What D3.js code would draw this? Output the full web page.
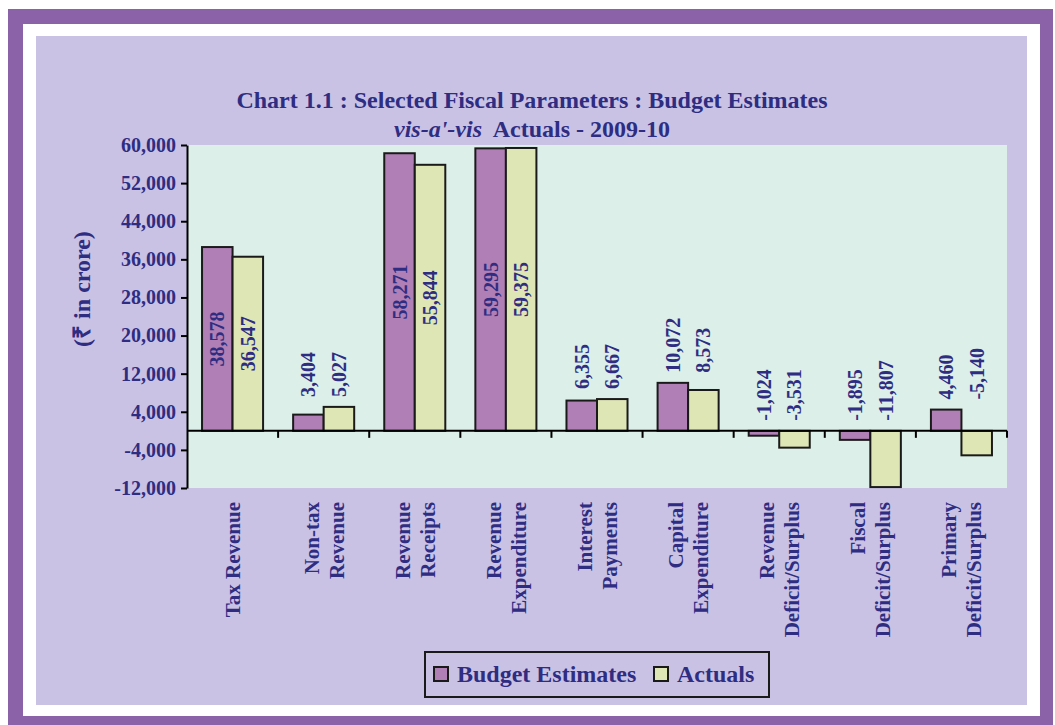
<!DOCTYPE html>
<html><head><meta charset="utf-8">
<script src="https://cdn.jsdelivr.net/npm/d3@7"></script>
<style>body{margin:0;background:#fff}svg{display:block}text{font-family:"Liberation Serif","Times New Roman",serif;font-weight:bold}</style>
</head><body><svg id="c" width="1055" height="725"></svg>
<script>
const categories = [["Tax Revenue"],["Non-tax","Revenue"],["Revenue","Receipts"],["Revenue","Expenditure"],["Interest","Payments"],["Capital","Expenditure"],["Revenue","Deficit/Surplus"],["Fiscal","Deficit/Surplus"],["Primary","Deficit/Surplus"]];
const budgetEstimates = [38578, 3404, 58271, 59295, 6355, 10072, -1024, -1895, 4460];
const actuals = [36547, 5027, 55844, 59375, 6667, 8573, -3531, -11807, -5140];
const seriesNames = ["Budget Estimates", "Actuals"];
const yTicks = [60000, 52000, 44000, 36000, 28000, 20000, 12000, 4000, -4000, -12000];

const navy = "#2e2d82", purple = "#8b62a8", lav = "#c9c2e5", mint = "#ddefe9";
const colors = ["#b07fb5", "#dfe6b5"];
const svg = d3.select("#c");
svg.append("rect").attr("x",8).attr("y",9).attr("width",1045).attr("height",716).attr("fill",purple);
svg.append("rect").attr("x",23).attr("y",24).attr("width",1017).attr("height",692).attr("fill","#fff");
svg.append("rect").attr("x",36).attr("y",36).attr("width",991).attr("height",669).attr("fill",lav);

const L=187,R=1007,T=145,B=488;
const keys = categories.map(c=>c.join(" "));
const x0 = d3.scaleBand().domain(keys).range([L,R]).paddingInner(0.33).paddingOuter(0.165);
const x1 = d3.scaleBand().domain(seriesNames).range([0,x0.bandwidth()]);
const y = d3.scaleLinear().domain([-12000,60000]).range([B,T]);
const fmt = d3.formatLocale({decimal:".",thousands:",",grouping:[3],currency:["",""],minus:"-"}).format(",");

svg.append("rect").attr("x",L).attr("y",T).attr("width",R-L).attr("height",B-T).attr("fill",mint);

// title
svg.append("text").attr("x",532).attr("y",108).attr("text-anchor","middle").attr("fill",navy).style("font-size","24px").text("Chart 1.1 : Selected Fiscal Parameters : Budget Estimates");
const t2 = svg.append("text").attr("x",532).attr("y",137).attr("text-anchor","middle").attr("fill",navy).style("font-size","24px");
t2.append("tspan").style("font-style","italic").text("vis-a'-vis");
t2.append("tspan").text("\u00a0 Actuals - 2009-10");

// y axis
const yAxis = svg.append("g").attr("transform",`translate(${L},0)`)
  .call(d3.axisLeft(y).tickValues(yTicks).tickFormat(fmt).tickSize(6).tickSizeOuter(0).tickPadding(5));
yAxis.select(".domain").attr("stroke","#000").attr("stroke-width",2);
yAxis.selectAll(".tick line").attr("stroke","#000").attr("stroke-width",2);
yAxis.selectAll(".tick text").attr("fill",navy).style("font-size","20px").style("font-family","'Liberation Serif',serif").style("font-weight","bold");

svg.append("text").attr("transform",`translate(82,289) rotate(-90)`).attr("text-anchor","middle").attr("dy","0.35em").attr("fill",navy).style("font-size","24px").text("(₹ in crore)");

// bars
const rows = keys.map((k,i)=>({k, vals:[budgetEstimates[i], actuals[i]]}));
const g = svg.append("g");
rows.forEach(r=>{
  r.vals.forEach((v,j)=>{
    g.append("rect").attr("x",x0(r.k)+x1(seriesNames[j])).attr("width",x1.bandwidth())
     .attr("y",y(Math.max(0,v))).attr("height",Math.abs(y(v)-y(0)))
     .attr("fill",colors[j]).attr("stroke","#1a1a1a").attr("stroke-width",2);
  });
});

// x axis at zero
const step = x0.step();
svg.append("line").attr("x1",L).attr("x2",R).attr("y1",y(0)).attr("y2",y(0)).attr("stroke","#000").attr("stroke-width",2);
keys.forEach((k,i)=>{
  const xb = x0(k)+x0.bandwidth()+step*0.33/2;
  svg.append("line").attr("x1",xb).attr("x2",xb).attr("y1",y(0)).attr("y2",y(0)+7).attr("stroke","#000").attr("stroke-width",2);
});

// data labels
rows.forEach(r=>{
  const top = Math.min(y(0), ...r.vals.map(v=>y(v)));
  r.vals.forEach((v,j)=>{
    const cx = x0(r.k)+x1(seriesNames[j])+x1.bandwidth()/2;
    const inside = Math.abs(v) > 30000;
    const yy = inside ? (y(v)+y(0))/2 : top-10;
    svg.append("text").attr("transform",`translate(${cx},${yy}) rotate(-90)`)
      .attr("text-anchor", inside?"middle":"start").attr("dy","0.35em")
      .attr("fill",navy).style("font-size","20px").text(fmt(v));
  });
});

// category labels
categories.forEach((c,i)=>{
  const cx = x0(keys[i])+x0.bandwidth()/2;
  c.forEach((line,li)=>{
    const off = (li-(c.length-1)/2)*25;
    svg.append("text").attr("transform",`translate(${cx+off},502) rotate(-90)`)
      .attr("text-anchor","end").attr("dy","0.35em").attr("fill",navy).style("font-size","21px").text(line);
  });
});

// legend
const lg = svg.append("g");
lg.append("rect").attr("x",425).attr("y",652).attr("width",344).attr("height",45).attr("fill","none").attr("stroke","#1a1a1a").attr("stroke-width",2);
const lx = [434, 654], tx = [457, 677];
seriesNames.forEach((n,j)=>{
  lg.append("rect").attr("x",lx[j]).attr("y",667).attr("width",14).attr("height",14).attr("fill",colors[j]).attr("stroke","#1a1a1a").attr("stroke-width",2);
  lg.append("text").attr("x",tx[j]).attr("y",682).attr("fill",navy).style("font-size","24px").text(n);
});
</script></body></html>
